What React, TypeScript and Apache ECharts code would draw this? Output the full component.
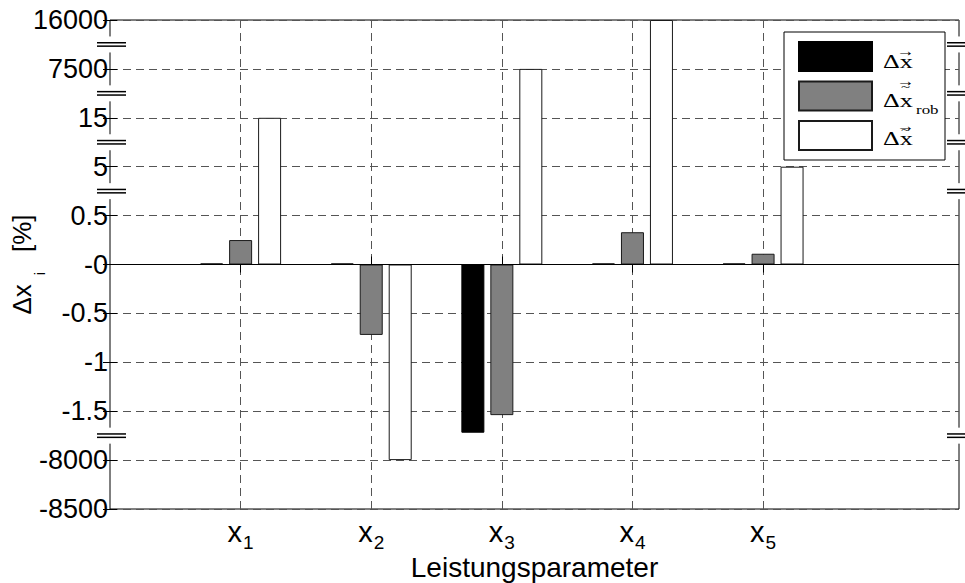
import React, { useEffect, useRef } from 'react';
import * as echarts from 'echarts';

// ---- data ----
const paramSubscripts = ['1', '2', '3', '4', '5'];
const paramPositions = [1, 2, 3, 4, 5];
const seriesNames = ['Δx', 'Δx~rob', 'Δx~'];
const legendBase = ['Δx', 'Δx', 'Δx'];
const legendSub = ['', 'rob', ''];
const legendTilde = [false, true, true];
const deltaX = [0, 0, -1.72, 0, 0];
const deltaXRob = [0.25, -0.72, -1.54, 0.33, 0.11];
const deltaXTilde = [15, -8000, 7500, 16000, 5];
// broken y axis: groups of ticks that share a linear scale
const axisSegments = [[-8500, -8000], [-1.5, -1, -0.5, 0, 0.5], [5], [15], [7500], [16000]];
const tickLabels = ['-8500', '-8000', '-1.5', '-1', '-0.5', '-0', '0.5', '5', '15', '7500', '16000'];
const xMin = 0;
const xMax = 6.5;

const HALF = (tickLabels.length - 1) / 2;

function toDisplay(v: number): number {
  let idx = 0;
  for (const seg of axisSegments) {
    if (seg.length === 1) {
      if (v === seg[0]) return idx - HALF;
    } else {
      const step = seg[1] - seg[0];
      if (v >= seg[0] - step / 2 && v <= seg[seg.length - 1] + step / 2) {
        return idx + (v - seg[0]) / step - HALF;
      }
    }
    idx += seg.length;
  }
  return NaN;
}

function breakPositions(): number[] {
  const out: number[] = [];
  let idx = 0;
  axisSegments.forEach((seg, i) => {
    if (i > 0) out.push(idx - 0.5 - HALF);
    idx += seg.length;
  });
  return out;
}

const SANS = '"Liberation Sans", Arial, sans-serif';
const SERIF = '"Liberation Serif", "Times New Roman", serif';
const dashed = { color: '#555', width: 1, type: [8, 5] as number[] };

// legend layout
const LEG_LEFT = 784;
const LEG_TOP = 32;
const LEG_PAD = [9, 72, 9, 14];
const LEG_ITEM_W = 73;
const LEG_ITEM_H = 29;
const LEG_GAP = 8.5;

function buildOption(): any {
  const tickCommon = { show: true, inside: true, length: 7, lineStyle: { color: '#000', width: 1 } };
  return {
    animation: false,
    grid: {
      left: 110, right: 6, top: 20, bottom: 74,
      containLabel: false,
      outerBoundsMode: 'none',
      show: true, borderColor: '#000', borderWidth: 1, backgroundColor: 'transparent',
    },
    legend: {
      orient: 'vertical',
      left: LEG_LEFT,
      top: LEG_TOP,
      itemWidth: LEG_ITEM_W,
      itemHeight: LEG_ITEM_H,
      itemGap: LEG_GAP,
      padding: LEG_PAD,
      backgroundColor: '#fff',
      borderColor: '#000',
      borderWidth: 1,
      icon: 'rect',
      selectedMode: false,
      data: seriesNames,
      formatter: () => '',
      textStyle: { fontSize: 1 },
    },
    xAxis: [
      {
        type: 'value', min: xMin, max: xMax, interval: 1, position: 'bottom',
        axisLine: { show: false },
        axisTick: { ...tickCommon, length: 8, customValues: paramPositions },
        axisLabel: {
          customValues: paramPositions,
          margin: 8,
          formatter: (v: number) => `{x|x}{s|${paramSubscripts[Math.round(v) - 1]}}`,
          rich: {
            x: { fontFamily: SANS, fontSize: 29, color: '#000', padding: [0, 0, 6, 0], verticalAlign: 'bottom' },
            s: { fontFamily: SANS, fontSize: 19, color: '#000', padding: [0, 0, 0, 1], verticalAlign: 'bottom' },
          },
        },
        splitLine: { show: true, lineStyle: dashed },
        name: 'Leistungsparameter',
        nameLocation: 'middle',
        nameGap: 46,
        nameMoveOverlap: false,
        nameTextStyle: { fontFamily: SANS, fontSize: 28, lineHeight: 24, color: '#000' },
      },
      {
        type: 'value', min: xMin, max: xMax, interval: 1, position: 'top',
        axisLine: { show: false },
        axisTick: { ...tickCommon, length: 8, customValues: paramPositions },
        axisLabel: { show: false },
        splitLine: { show: false },
      },
    ],
    yAxis: [
      {
        type: 'value', min: -HALF, max: HALF, interval: 1,
        axisLine: { show: false },
        axisTick: tickCommon,
        axisLabel: {
          margin: 2,
          fontFamily: SANS, fontSize: 27, color: '#000',
          formatter: (v: number) => tickLabels[Math.round(v + HALF)],
        },
        splitLine: { show: true, lineStyle: dashed },
        name: '{a|Δx}{s|i}{a|[%]}',
        nameLocation: 'middle',
        nameRotate: 90,
        nameGap: 63,
        nameMoveOverlap: false,
        nameTextStyle: {
          rich: {
            a: { fontFamily: SANS, fontSize: 26, color: '#000', padding: [0, 0, 12, 0], verticalAlign: 'bottom' },
            s: { fontFamily: SANS, fontSize: 14, color: '#000', padding: [0, 20, 0, 9], verticalAlign: 'bottom' },
          },
        },
      },
      {
        type: 'value', min: -HALF, max: HALF, interval: 1, position: 'right',
        axisLine: { show: false },
        axisTick: tickCommon,
        axisLabel: { show: false },
        splitLine: { show: false },
      },
    ],
    series: [
      {
        type: 'bar', name: seriesNames[0],
        data: paramPositions.map((p, i) => [p, toDisplay(deltaX[i])]),
        barWidth: 23, barGap: '26%', barMinHeight: 1,
        itemStyle: { color: '#000', borderColor: '#000', borderWidth: 1 },
        z: 3,
      },
      {
        type: 'bar', name: seriesNames[1],
        data: paramPositions.map((p, i) => [p, toDisplay(deltaXRob[i])]),
        barWidth: 23, barGap: '26%',
        itemStyle: { color: '#808080', borderColor: '#1a1a1a', borderWidth: 1 },
        z: 3,
        markLine: {
          silent: true, symbol: 'none', label: { show: false },
          lineStyle: { color: '#000', width: 1, type: 'solid' },
          data: [{ yAxis: toDisplay(0) }],
        },
      },
      {
        type: 'bar', name: seriesNames[2],
        data: paramPositions.map((p, i) => [p, toDisplay(deltaXTilde[i])]),
        barWidth: 23, barGap: '26%',
        itemStyle: { color: '#fff', borderColor: '#1a1a1a', borderWidth: 1 },
        z: 3,
      },
    ],
  };
}

function legendLabels(): any[] {
  const out: any[] = [];
  const textX = LEG_LEFT + LEG_PAD[3] + LEG_ITEM_W + 12;
  const scale = 1.45;
  const fs = 18;
  // centre of the "x" glyph: after "Δ" (0.612em) plus half of "x" (0.5em)
  const xCenter = textX + (0.612 + 0.25) * fs * scale;
  seriesNames.forEach((_, i) => {
    const c = LEG_TOP + LEG_PAD[0] + i * (LEG_ITEM_H + LEG_GAP) + LEG_ITEM_H / 2;
    const baseline = c + (legendTilde[i] ? 14.5 : 12.5);
    const arrowY = legendTilde[i] ? (legendSub[i] ? c - 11.5 : c - 4.5) : c - 4;
    const tildeY = legendSub[i] ? c - 6.5 : c - 0.5;
    out.push({
      type: 'text', x: textX, y: baseline - 0.34 * fs, scaleX: scale, z: 200, silent: true,
      style: { text: legendBase[i], fontFamily: SERIF, fontSize: fs, fill: '#000', align: 'left', verticalAlign: 'middle' },
    });
    out.push({
      type: 'text', x: xCenter, y: arrowY, scaleX: 1.2, z: 200, silent: true,
      style: { text: '→', fontFamily: SERIF, fontSize: 15, fill: '#000', align: 'center', verticalAlign: 'middle' },
    });
    if (legendTilde[i]) {
      out.push({
        type: 'text', x: xCenter, y: tildeY, scaleX: 1.3, z: 200, silent: true,
        style: { text: '~', fontFamily: SERIF, fontSize: 13, fill: '#000', align: 'center', verticalAlign: 'middle' },
      });
    }
    if (legendSub[i]) {
      const fsS = 13;
      out.push({
        type: 'text', x: xCenter + 0.25 * fs * scale + 4, y: c + 21 - 0.34 * fsS, scaleX: 1.3, z: 200, silent: true,
        style: { text: legendSub[i], fontFamily: SERIF, fontSize: fsS, fill: '#000', align: 'left', verticalAlign: 'middle' },
      });
    }
  });
  return out;
}

export default function App() {
  const ref = useRef<HTMLDivElement>(null);
  useEffect(() => {
    document.body.style.margin = '0';
    const chart = echarts.init(ref.current as HTMLDivElement, null, { renderer: 'svg' });
    chart.setOption(buildOption());
    const leftX = chart.convertToPixel({ xAxisIndex: 0 }, xMin) as number;
    const rightX = chart.convertToPixel({ xAxisIndex: 0 }, xMax) as number;
    const gfx: any[] = [];
    breakPositions().forEach((b) => {
      const y = chart.convertToPixel({ yAxisIndex: 0 }, b) as number;
      const sides: [number, number, number][] = [[leftX, -13, 16], [rightX, -12, 16]];
      sides.forEach(([ax, l, r]) => {
        gfx.push({ type: 'rect', silent: true, z: 100, shape: { x: ax - 3, y: y - 8, width: 6, height: 16 }, style: { fill: '#fff' } });
        [-1.7, 1.7].forEach((d) => {
          gfx.push({ type: 'line', silent: true, z: 101, shape: { x1: ax + l, y1: y + d, x2: ax + r, y2: y + d }, style: { stroke: '#000', lineWidth: 1.5 } });
        });
      });
    });
    chart.setOption({ graphic: [...gfx, ...legendLabels()] });
    return () => chart.dispose();
  }, []);
  return <div ref={ref} style={{ width: 965, height: 583 }} />;
}
